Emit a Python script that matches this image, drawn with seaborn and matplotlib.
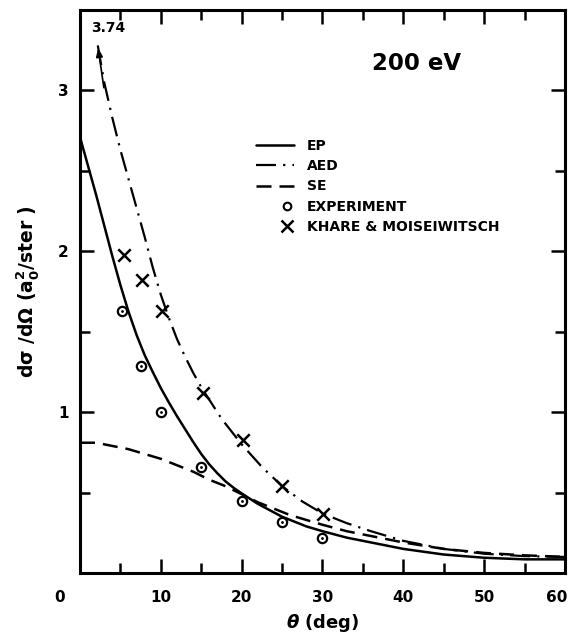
import matplotlib
matplotlib.use("Agg")
import matplotlib.pyplot as plt
import matplotlib.transforms as mtransforms
from matplotlib.lines import Line2D
from matplotlib.legend_handler import HandlerLine2D
import seaborn as sns
import numpy as np

# ---- data ----
ep_x = [0, 1, 2, 3, 4, 5, 6, 7, 8, 9, 10, 11, 12, 13, 14, 15, 16, 17, 18, 19, 20, 22, 25, 28, 30, 33, 36, 40, 45, 50, 55, 60]
ep_y = [2.71, 2.53, 2.35, 2.16, 1.97, 1.79, 1.625, 1.48, 1.355, 1.25, 1.15, 1.06, 0.975, 0.895, 0.815, 0.74, 0.675, 0.62, 0.57, 0.53, 0.495, 0.43, 0.35, 0.29, 0.26, 0.22, 0.19, 0.15, 0.115, 0.095, 0.085, 0.085]

aed_x = [2.2, 3, 4, 5, 6, 7, 8, 9, 10, 11, 12, 13, 14, 15, 17.5, 20, 22.5, 25, 27.5, 30, 33, 36, 40, 45, 50, 55, 60]
aed_y = [3.28, 3.05, 2.83, 2.63, 2.45, 2.27, 2.09, 1.90, 1.73, 1.585, 1.455, 1.345, 1.245, 1.155, 0.96, 0.80, 0.66, 0.54, 0.445, 0.37, 0.31, 0.26, 0.20, 0.15, 0.12, 0.105, 0.10]
aed_peak = 3.74

se_x = [0, 2, 4, 6, 8, 10, 12, 14, 16, 18, 20, 22, 24, 26, 28, 30, 33, 36, 40, 45, 50, 55, 60]
se_y = [0.81, 0.81, 0.79, 0.77, 0.74, 0.71, 0.67, 0.63, 0.58, 0.54, 0.49, 0.44, 0.40, 0.36, 0.33, 0.30, 0.26, 0.23, 0.19, 0.15, 0.125, 0.11, 0.10]

exp_x = [5.2, 7.6, 10, 15, 20, 25, 30]
exp_y = [1.63, 1.29, 1.00, 0.66, 0.45, 0.32, 0.22]

km_x = [5.4, 7.7, 10.1, 15.2, 20.2, 25, 30.1]
km_y = [1.98, 1.82, 1.63, 1.12, 0.83, 0.54, 0.37]

x_ticks = [0, 10, 20, 30, 40, 50, 60]
y_ticks = [1, 2, 3]
labels = ["EP", "AED", "SE", "EXPERIMENT", "KHARE & MOISEIWITSCH"]

# ---- style ----
sns.set_style("ticks")
plt.rcParams["font.family"] = ["DejaVu Sans"]
plt.rcParams["font.weight"] = "bold"
plt.rcParams["mathtext.default"] = "regular"
for k in ["text.color", "axes.labelcolor", "xtick.color", "ytick.color", "axes.edgecolor"]:
    plt.rcParams[k] = "black"

fig = plt.figure(figsize=(5.73, 6.35), dpi=100)
ax = fig.add_axes([0.1396, 0.0976, 0.8464, 0.8866])

dash_se = (0, (6, 3.2))
dash_aed = (0, (9, 3.2, 1.0, 3.2))

sns.lineplot(x=ep_x, y=ep_y, ax=ax, color="black", lw=1.8, sort=False, estimator=None)
sns.lineplot(x=aed_x, y=aed_y, ax=ax, color="black", lw=1.6, linestyle=dash_aed, sort=False, estimator=None)
sns.lineplot(x=se_x, y=se_y, ax=ax, color="black", lw=1.8, linestyle=dash_se, sort=False, estimator=None)

sns.scatterplot(x=exp_x, y=exp_y, ax=ax, marker="o", s=45, facecolor="white", edgecolor="black", linewidth=1.6, zorder=5)
sns.scatterplot(x=exp_x, y=exp_y, ax=ax, marker="o", s=4, color="black", edgecolor="black", linewidth=0, zorder=6)
sns.scatterplot(x=km_x, y=km_y, ax=ax, marker="x", s=80, color="black", linewidth=1.8, zorder=5)

# arrow on AED curve going off scale
ax.annotate("", xy=(aed_x[0], aed_y[0]), xytext=(aed_x[1], aed_y[1] - 0.05),
            arrowprops=dict(arrowstyle="-|>,head_length=0.5,head_width=0.2", color="black", lw=1.2))
ax.text(3.5, 3.39, f"{aed_peak:.2f}", fontsize=10, fontweight="bold", ha="center", va="center")

ax.text(41.6, 3.17, "200 eV", fontsize=16.5, fontweight="bold", ha="center", va="center")

# axes
ax.set_xlim(0, 60)
ax.set_ylim(0, 3.5)
ax.set_xticks(x_ticks)
ax.set_xticklabels([str(v) for v in x_ticks])
ax.set_xticks(np.arange(5, 60, 10), minor=True)
ax.set_yticks(y_ticks)
ax.set_yticklabels([str(v) for v in y_ticks])
ax.set_yticks([0.5, 1.5, 2.5], minor=True)
ax.tick_params(axis="both", which="both", direction="in", top=True, right=True,
               width=1.8, labelsize=11)
ax.tick_params(axis="both", which="major", length=10)
ax.tick_params(axis="both", which="minor", length=7)
ax.tick_params(axis="x", which="major", pad=12)
ax.tick_params(axis="y", which="major", pad=8)
for lab in ax.get_xticklabels() + ax.get_yticklabels():
    lab.set_fontweight("bold")
# shift the origin label left and the last label slightly left
xl = ax.get_xticklabels()
off0 = mtransforms.ScaledTranslation(-20 / 100, 0, fig.dpi_scale_trans)
xl[0].set_transform(xl[0].get_transform() + off0)
offn = mtransforms.ScaledTranslation(-8 / 100, 0, fig.dpi_scale_trans)
xl[-1].set_transform(xl[-1].get_transform() + offn)

for s in ax.spines.values():
    s.set_linewidth(2.2)

ax.set_xlabel(r"$\mathit{\theta}$ (deg)", fontsize=13, fontweight="bold", labelpad=5)
ax.set_ylabel(r"d$\sigma$ /d$\Omega$ (a$_0^2$/ster )", fontsize=13.5, fontweight="bold", labelpad=12)


class RightMarker(HandlerLine2D):
    """Place the single legend marker near the right end of the handle box."""
    def get_xdata(self, legend, xdescent, ydescent, width, height, fontsize):
        x0 = -xdescent + 0.64 * width
        x1 = -xdescent + width
        return [x0, x1], [0.5 * (x0 + x1)]


handles = [
    Line2D([], [], color="black", lw=1.8),
    Line2D([], [], color="black", lw=1.6, linestyle=dash_aed),
    Line2D([], [], color="black", lw=1.8, linestyle=dash_se),
    Line2D([], [], color="black", marker="o", markersize=5.5, markerfacecolor="white", markeredgewidth=1.5, lw=0),
    Line2D([], [], color="black", marker="x", markersize=8, markeredgewidth=1.8, lw=0),
]
leg = ax.legend(handles, labels, loc="upper left", bbox_to_anchor=(0.362, 0.771), frameon=False,
                prop=dict(size=10, weight="bold"), handlelength=2.8, handletextpad=0.9,
                labelspacing=0.45, borderaxespad=0, borderpad=0,
                handler_map={handles[3]: RightMarker(numpoints=1), handles[4]: RightMarker(numpoints=1)})

fig.savefig("out.png", dpi=100)
